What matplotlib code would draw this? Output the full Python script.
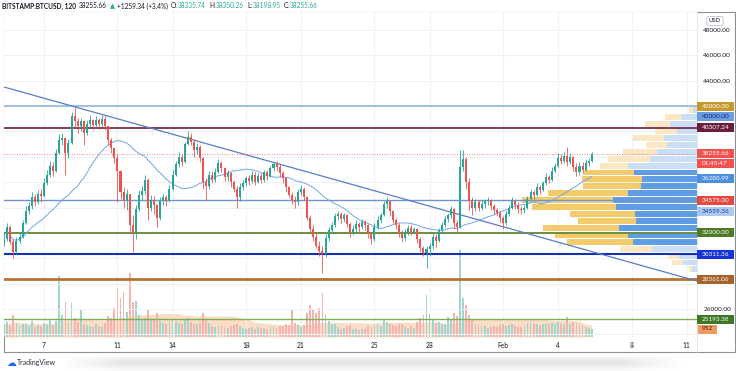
import matplotlib
matplotlib.use('Agg')
import matplotlib.pyplot as plt
import matplotlib.dates as mdates
import matplotlib.transforms as mtransforms
from matplotlib.patches import Rectangle
from matplotlib.lines import Line2D
import numpy as np
import pandas as pd

plt.rcParams['font.family'] = ['Lato', 'DejaVu Sans']

# BITSTAMP:BTCUSD, candles resampled to 4h (Jan 4 20:00 .. Feb 5 20:00, 2021)
candle_start = '2021-01-04 20:00'
first_open = 31200
closes = [
    31500,
    32500, 31300, 30500, 31400, 31700, 32800,   # Jan 5
    33700, 34100, 34800, 34400, 35100, 34900,   # Jan 6
    35900, 36600, 37300, 36900, 38300, 39300,   # Jan 7
    39500, 38300, 39100, 41200, 40800, 40400,   # Jan 8
    40800, 39900, 40600, 40900, 40500, 40900,   # Jan 9
    40600, 41000, 40400, 39300, 38700, 37900,   # Jan 10
    36900, 35200, 34500, 35100, 32600, 32100,   # Jan 11
    33900, 35000, 35300, 36200, 34000, 34600,   # Jan 12
    34200, 33200, 34500, 34800, 34500, 35500,   # Jan 13
    36600, 37400, 38000, 37600, 39000, 39600,   # Jan 14
    39200, 38500, 38800, 37900, 36000, 35700,   # Jan 15
    36600, 36200, 36800, 37500, 37100, 36400,   # Jan 16
    36700, 36000, 35500, 34800, 35600, 35900,   # Jan 17
    36300, 36100, 36600, 36000, 36500, 36200,   # Jan 18
    36800, 36500, 37100, 37400, 37200, 36700,   # Jan 19
    36300, 35600, 35000, 34600, 34400, 35200,   # Jan 20
    35500, 34800, 33200, 32300, 31700, 31000,   # Jan 21
    30600, 30300, 31600, 32200, 32600, 33300,   # Jan 22
    33500, 33100, 33400, 32700, 32000, 32300,   # Jan 23
    32700, 32500, 32900, 32600, 31900, 31500,   # Jan 24
    32500, 33000, 33400, 34300, 34500, 33700,   # Jan 25
    33000, 32600, 32000, 31600, 32000, 32400,   # Jan 26
    32100, 32300, 31500, 30800, 30400, 30700,   # Jan 27
    31000, 31700, 31400, 32200, 32600, 33100,   # Jan 28
    33400, 33900, 32800, 32500, 37200, 37800,   # Jan 29
    36000, 34500, 34000, 34400, 34000, 34300,   # Jan 30
    34500, 34600, 34100, 33800, 33600, 33200,   # Jan 31
    32800, 33500, 34000, 34500, 34200, 33900,   # Feb 1
    33800, 34000, 34700, 35200, 35000, 35600,   # Feb 2
    35400, 35900, 36400, 36200, 36900, 37300,   # Feb 3
    37900, 37700, 38100, 37600, 38000, 37200,   # Feb 4
    36800, 37300, 37000, 37500, 37700, 38255.66,  # Feb 5
]
highs = [
    32000,
    32750, 32600, 31500, 31700, 32100, 33000,
    34100, 34400, 35200, 35100, 35400, 35500,
    36300, 37000, 37700, 37600, 38600, 39800,
    39900, 39600, 39400, 41500, 41900, 41100,
    41100, 40900, 40900, 41300, 41000, 41200,
    41100, 41300, 41200, 40500, 39500, 38800,
    38200, 37000, 35600, 35500, 35000, 33400,
    34200, 35400, 35700, 36600, 36300, 35000,
    34900, 34300, 34800, 35100, 35000, 35800,
    37000, 37700, 38400, 38200, 39200, 40050,
    39900, 39400, 39100, 38900, 38000, 36300,
    36900, 36900, 37100, 37800, 37700, 37200,
    37000, 36800, 36200, 35700, 35900, 36200,
    36500, 36600, 36900, 36800, 36700, 36700,
    37000, 37000, 37300, 37600, 37650, 37400,
    36900, 36400, 35700, 35200, 34900, 35500,
    35800, 35600, 34900, 33400, 32600, 32000,
    31400, 31000, 31900, 32500, 32900, 33600,
    33700, 33650, 33600, 33500, 32900, 32600,
    33000, 32900, 33100, 33000, 32700, 32100,
    32800, 33300, 33600, 34500, 34850, 34600,
    33800, 33200, 32800, 32200, 32300, 32600,
    32600, 32500, 32400, 31700, 31000, 31000,
    31200, 32000, 31900, 32400, 32900, 33300,
    33600, 34100, 34000, 33000, 38550, 38500,
    38000, 36300, 34800, 34700, 34600, 34600,
    34700, 34850, 34700, 34300, 34000, 33700,
    33300, 33700, 34200, 34800, 34700, 34400,
    34100, 34200, 34900, 35500, 35400, 35900,
    35800, 36100, 36700, 36600, 37200, 37500,
    38300, 38200, 38400, 38750, 38300, 38100,
    37500, 37600, 37600, 37800, 37900, 38350.26,
]
lows = [
    31000,
    31400, 31100, 30000, 30300, 31200, 31600,
    32700, 33500, 33900, 34100, 34300, 34400,
    34800, 35800, 36400, 36500, 36800, 38200,
    38900, 36600, 37900, 39000, 40300, 39900,
    40000, 38900, 39700, 40300, 40100, 40300,
    40200, 40400, 40100, 38900, 38300, 37500,
    34400, 34700, 34000, 33800, 32000, 30500,
    31500, 33700, 34600, 35100, 33000, 33700,
    33500, 32450, 33000, 34200, 34100, 34400,
    35400, 36500, 37200, 37300, 37500, 38900,
    38900, 38000, 38200, 37600, 35500, 34600,
    35500, 35900, 36000, 36700, 36800, 36100,
    36100, 35600, 35200, 34000, 34500, 35400,
    35700, 35800, 35900, 35800, 35900, 35900,
    36000, 36200, 36400, 36900, 36900, 36400,
    35900, 35200, 34800, 34300, 34000, 34200,
    35000, 34600, 33000, 32000, 31400, 30800,
    30200, 28850, 30100, 31400, 32000, 32500,
    33000, 32800, 32900, 32500, 31700, 31800,
    32100, 32100, 32300, 32200, 31600, 31150,
    31400, 32300, 32800, 33300, 34000, 33300,
    32800, 32300, 31700, 31300, 31400, 31800,
    31800, 31900, 31200, 30500, 30200, 29200,
    30200, 30700, 30900, 31300, 32000, 32500,
    32900, 33200, 32300, 32100, 32400, 36900,
    35500, 33800, 33400, 33700, 33700, 33800,
    34000, 34200, 33800, 33500, 33300, 32900,
    32300, 32600, 33300, 33900, 33900, 33600,
    33500, 33600, 33900, 34600, 34700, 34900,
    35100, 35300, 35800, 35900, 36100, 36800,
    37200, 37400, 37500, 37300, 37400, 36900,
    36500, 36600, 36800, 36900, 37300, 37600,
]
volumes = [
    1500,
    1800, 1400, 2600, 1700, 1300, 1500,
    1600, 1300, 1900, 1200, 1400, 1300,
    1700, 1500, 2200, 1400, 1900, 7300,
    2600, 4200, 1800, 4000, 2300, 1800,
    3300, 1600, 1400, 1300, 1200, 1500,
    1300, 1200, 1700, 2500, 2300, 3500,
    5800, 4700, 5300, 3000, 7600, 4200,
    4300, 2600, 2100, 2300, 3300, 2200,
    2000, 2800, 1900, 1700, 1500, 1900,
    2200, 1800, 1700, 1500, 2000, 2300,
    1800, 1600, 1500, 1700, 2900, 2100,
    1700, 1300, 1200, 1400, 1300, 1200,
    1100, 1300, 1400, 1600, 1300, 1100,
    1000, 1100, 1200, 1000, 1200, 1100,
    1100, 1000, 1300, 1200, 1100, 1300,
    1300, 1500, 1400, 3200, 1700, 1400,
    1200, 1400, 2900, 3800, 3300, 2800,
    3400, 5200, 2600, 1900, 1600, 1500,
    1200, 1000, 1100, 1300, 1400, 1000,
    900, 800, 900, 1000, 1300, 1200,
    1400, 1500, 1300, 2200, 1800, 1500,
    1400, 1300, 1500, 1600, 1200, 1100,
    1300, 1100, 1800, 2300, 2600, 5000,
    2700, 2000, 1700, 1800, 1600, 1500,
    2400, 2200, 2900, 2500, 10400, 4600,
    3800, 2600, 2000, 1600, 1400, 1300,
    1300, 1100, 1200, 1300, 1200, 1400,
    1500, 1300, 1400, 1600, 1300, 1200,
    1200, 1300, 1700, 1800, 1500, 1600,
    1400, 1500, 1600, 1500, 1700, 1600,
    1800, 1500, 1400, 2400, 1500, 1800,
    1700, 1400, 1300, 1200, 1100, 952,
]
ma_period = 25
vol_ma_period = 40
ma_last = 36280.99

# horizontal levels drawn on the chart
levels = [42000, 40307.24, 34575, 32000, 30311.36, 28361.06, 25193.38]
level_colors = ['#8eafdc', '#6c1d3d', '#6f95cf', '#6b8f3e', '#1630b0', '#b5732f', '#7fae52']
level_widths = [1.1, 1.2, 1.0, 1.4, 1.5, 2.0, 1.0]

# descending trend line (two anchors)
trend_dates = ['2021-01-04 19:42', '2021-02-11 13:36']
trend_prices = [43505, 28205]

# visible range volume profile, 24 rows from top to bottom
vp_high, vp_low = 41950, 28850
vp_up = [4, 16, 25, 22, 31, 21, 34, 42, 28, 51, 60, 58,
         80, 91, 84, 65, 58, 76, 73, 66, 32, 11, 11, 3]
vp_down = [4, 16, 27, 20, 33, 30, 40, 47, 69, 63, 55, 56,
           69, 84, 81, 62, 61, 78, 69, 64, 45, 18, 14, 5]
vp_value_area = (9, 19)

tick_dates = ['2021-01-07', '2021-01-11', '2021-01-14', '2021-01-18', '2021-01-21', '2021-01-25',
              '2021-01-28', '2021-02-01', '2021-02-04', '2021-02-08', '2021-02-11']
tick_labels = ['7', '11', '14', '18', '21', '25', '28', 'Feb', '4', '8', '11']
price_ticks = list(range(24000, 50000, 2000))

# labels on the price scale: text, value, background, text colour, shift in px
axis_labels = [
    ('42000.00', 42000, '#c49a2c', 'white', 0),
    ('42000.00', 42000, '#6b9be0', '#0f2a6b', -10),
    ('40307.24', 40307.24, '#6c1d3d', 'white', 0),
    ('38255.66', 38255.66, '#ef5350', 'white', 0),
    ('01:45:47', 38255.66, '#ef5350', 'white', -10),
    ('36280.99', ma_last, '#4a8fe0', 'white', 0),
    ('34575.00', 34575, '#e5483f', 'white', 0),
    ('34559.36', 34559.36, '#a9c9f0', '#173a8a', -11),
    ('32000.00', 32000, '#4c7a27', 'white', 0),
    ('30311.36', 30311.36, '#1533d6', 'white', 0),
    ('28361.06', 28361.06, '#a6632b', 'white', 0),
    ('25193.38', 25193.38, '#3e7a26', 'white', 0),
]

W, H = 736, 371
UP, DOWN = '#26a69a', '#ef5350'
TXT = '#131722'

fig = plt.figure(figsize=(W / 100, H / 100), dpi=100)
fig.patch.set_facecolor('white')

# plot area in pixels
pl, pt, pr, pb = 4, 12, 697, 337
rect = [pl / W, 1 - pb / H, (pr - pl) / W, (pb - pt) / H]
plot_h = pb - pt

ax_vol = fig.add_axes(rect, zorder=1)
ax_vp = fig.add_axes(rect, zorder=2)
ax = fig.add_axes(rect, zorder=3)
ax_vp.patch.set_visible(False)
ax.patch.set_visible(False)

times = pd.date_range(candle_start, periods=len(closes), freq='4h')
x = mdates.date2num(times.to_pydatetime())
c = np.array(closes, dtype=float)
o = np.array([first_open] + closes[:-1], dtype=float)
h = np.array(highs, dtype=float)
lo = np.array(lows, dtype=float)
up = c >= o
cols = np.where(up, UP, DOWN)

xmin = mdates.date2num(pd.Timestamp('2021-01-04 19:42').to_pydatetime())
xmax = mdates.date2num(pd.Timestamp('2021-02-11 13:36').to_pydatetime())
ylo, yhi = 23793, 49419
tick_x = mdates.date2num(pd.to_datetime(tick_dates).to_pydatetime())

# volume panel (bottom layer) + vertical grid
ax_vol.set_xlim(xmin, xmax)
ax_vol.set_ylim(0, 38675)
ax_vol.set_xticks(tick_x)
ax_vol.grid(axis='x', color='#eef1f6', lw=0.8)
ax_vol.set_yticks([])
ax_vol.tick_params(length=0, labelbottom=False)
for s in ax_vol.spines.values():
    s.set_visible(False)
vol_ma = pd.Series(volumes).rolling(vol_ma_period, min_periods=1).mean()
ax_vol.fill_between(x, 0, vol_ma, color='#f9c7a3', alpha=0.6, lw=0, zorder=1)
vol_cols = np.where(up, '#9fd5cd', '#f5b3ae')
ax_vol.bar(x, volumes, width=0.1, color=vol_cols, lw=0, zorder=2)

# volume profile + horizontal grid
ax_vp.set_ylim(ylo, yhi)
ax_vp.set_xlim(pr - pl, 0)
ax_vp.set_yticks(price_ticks)
ax_vp.set_axisbelow(True)
ax_vp.grid(axis='y', color='#eef1f6', lw=0.8)
ax_vp.set_xticks([])
ax_vp.tick_params(length=0, labelleft=False)
for s in ax_vp.spines.values():
    s.set_visible(False)
step = (vp_high - vp_low) / len(vp_up)
centers = [vp_high - (i + 0.5) * step for i in range(len(vp_up))]
in_va = [vp_value_area[0] <= i <= vp_value_area[1] for i in range(len(vp_up))]
ycol = ['#f4cb6c' if v else '#fbe7c3' for v in in_va]
bcol = ['#5f9de4' if v else '#cadff5' for v in in_va]
ax_vp.barh(centers, vp_down, left=0, height=step * 0.86, color=bcol, lw=0)
ax_vp.barh(centers, vp_up, left=vp_down, height=step * 0.86, color=ycol, lw=0)

# main price chart
ax.set_xlim(xmin, xmax)
ax.set_ylim(ylo, yhi)
for lv, lc, lw in zip(levels, level_colors, level_widths):
    ax.axhline(lv, color=lc, lw=lw, zorder=2)
tx = mdates.date2num(pd.to_datetime(trend_dates).to_pydatetime())
ax.plot(tx, trend_prices, color='#5a7cc6', lw=0.9, zorder=2)
ax.axhline(closes[-1], color=DOWN, lw=0.6, ls=(0, (1, 2)), zorder=2)

ma = pd.Series(closes).rolling(ma_period, min_periods=3).mean()
ax.plot(x, ma, color='#6fa6ea', lw=0.7, zorder=3)

ax.vlines(x, lo, h, colors=cols, lw=0.6, zorder=4)
body = np.maximum(np.abs(c - o), 40)
ax.bar(x, body, bottom=np.minimum(o, c), width=0.11, color=cols, lw=0, zorder=5)

# price scale: hide the tick texts that sit under a label box
a, b = ylo, yhi
per_px = (b - a) / plot_h
label_centres = [v + s * per_px for _, v, _, _, s in axis_labels] + [a + volumes[-1] / 38675 * (b - a)]
shown = [p for p in price_ticks if all(abs(p - lc) / per_px > 7 for lc in label_centres)]

ax.set_xticks(tick_x)
ax.set_xticklabels(tick_labels)
ax.yaxis.tick_right()
ax.set_yticks(shown)
ax.set_yticklabels(['%.2f' % p for p in shown])
ax.tick_params(axis='y', length=0, pad=4.5, labelsize=4.6, labelcolor=TXT)
ax.tick_params(axis='x', length=0, pad=3.5, labelsize=4.8, labelcolor=TXT)
for s in ax.spines.values():
    s.set_visible(False)


def scale_label(axis, value, text, bg, fg, shift=0, width=37):
    y0, y1 = axis.get_ylim()
    ppx = (y1 - y0) / plot_h
    yc = value + shift * ppx
    tr = mtransforms.blended_transform_factory(fig.transFigure, axis.transData)
    axis.add_patch(Rectangle((pr / W, yc - 4.5 * ppx), width / W, 9 * ppx, transform=tr,
                             facecolor=bg, edgecolor='none', clip_on=False, zorder=10))
    axis.text((pr + 5) / W, yc, text, transform=tr, ha='left', va='center', fontsize=4.6,
              color=fg, clip_on=False, zorder=11)


for text, val, bg, fg, shift in axis_labels:
    scale_label(ax, val, text, bg, fg, shift)
scale_label(ax_vol, volumes[-1], '%d' % volumes[-1], '#f19a60', '#3b2414', 0, width=20)

# header line, laid out piece by piece
title_parts = [
    ('BITSTAMP:BTCUSD, 120', TXT, 'bold', 3),
    ('38255.66', TXT, 'normal', 3),
    ('\u25b2', UP, 'normal', 2),
    ('+1259.34 (+3.4%)', TXT, 'normal', 3),
    ('O:', TXT, 'normal', 0.5), ('38335.74', UP, 'normal', 3),
    ('H:', TXT, 'normal', 0.5), ('38350.26', UP, 'normal', 3),
    ('L:', TXT, 'normal', 0.5), ('38198.95', UP, 'normal', 3),
    ('C:', TXT, 'normal', 0.5), ('38255.66', UP, 'normal', 0),
]
renderer = fig.canvas.get_renderer()
cursor = 2
for s, col, wt, gap in title_parts:
    t = fig.text(cursor / W, 1 - 6 / H, s, ha='left', va='center', fontsize=4.7, color=col,
                 fontweight=wt, family=['Lato', 'DejaVu Sans'])
    cursor += t.get_window_extent(renderer).width + gap

fig.text(715 / W, 1 - 21 / H, 'USD', ha='center', va='center', fontsize=4.3, color=TXT,
         bbox=dict(boxstyle='round,pad=0.35', fc='white', ec='#b2b5be', lw=0.5))

# chart frame
fig.add_artist(Rectangle((pl / W, 1 - 352 / H), (735 - pl) / W, (352 - pt) / H,
                         transform=fig.transFigure, fill=False, ec='#8d9099', lw=0.8))
fig.add_artist(Line2D([pr / W, pr / W], [1 - 352 / H, 1 - pt / H], transform=fig.transFigure,
                      color='#e0e3eb', lw=0.6))

# screenshot shadow and logo
sh = fig.add_axes([60 / W, 0, 625 / W, 15 / H], zorder=0)
gy = np.linspace(0, 1, 30)[:, None]
gx = np.linspace(-1, 1, 300)[None, :]
shade = 1 - 0.1 * np.exp(-((gy - 0.45) / 0.4) ** 2) * np.clip((1 - np.abs(gx)) * 5, 0, 1)
sh.imshow(shade, cmap='gray', vmin=0, vmax=1, aspect='auto')
sh.axis('off')
fig.text(11 / W, 1 - 363 / H, '\u2601', ha='center', va='center', fontsize=7, color='#2962ff',
         family='DejaVu Sans')
fig.text(17 / W, 1 - 363 / H, 'TradingView', ha='left', va='center', fontsize=5, color='#2a2e39')

fig.savefig('out.png', dpi=100)
